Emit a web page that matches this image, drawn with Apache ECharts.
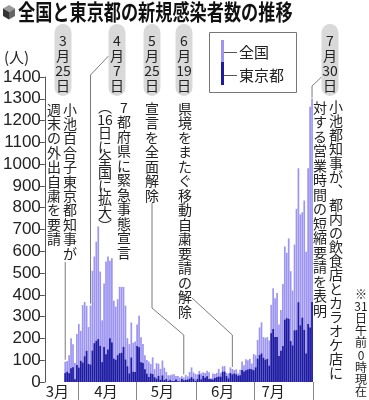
<!DOCTYPE html>
<html><head><meta charset="utf-8">
<script src="https://cdn.jsdelivr.net/npm/echarts@6/dist/echarts.min.js"></script>
<style>html,body{margin:0;padding:0;background:#fff}#c{width:369px;height:400px}</style>
</head><body><div id="c"></div>
<script>
// ---- data ----
const monthSpans = [[3,15,31],[4,1,30],[5,1,31],[6,1,30],[7,1,30]];
const categories = [];
monthSpans.forEach(([m,a,b]) => { for (let d=a; d<=b; d++) categories.push(m + '/' + d); });

const seriesNames = ['全国', '東京都'];
const national = [
  null,null,null,null,null,null,null,null,null,null,
  93,96,123,201,173,87,220,
  266,235,353,367,350,252,351,511,576,644,714,507,283,452,553,576,557,568,373,346,380,437,437,436,350,201,174,273,180,186,
  264,304,205,175,123,101,94,83,113,59,87,84,60,99,66,46,31,31,35,36,28,28,21,27,21,33,26,46,67,44,37,
  35,51,40,45,41,52,45,17,39,37,42,60,41,72,73,41,39,67,60,55,58,40,56,94,77,105,100,106,85,128,
  123,193,250,274,206,203,206,191,354,430,385,408,264,331,450,622,593,659,509,420,631,795,981,770,779,833,598,981,1264,1301
];
const tokyo = [
  null,null,null,null,null,null,null,null,null,null,
  41,47,40,63,68,13,78,
  66,97,89,118,143,83,80,144,178,189,197,166,91,161,127,149,201,181,107,102,123,132,134,161,103,72,39,112,47,46,
  165,160,91,87,58,38,23,39,36,22,15,28,10,30,9,14,5,10,5,5,11,3,2,14,8,10,11,15,22,14,5,
  13,34,12,28,20,26,14,13,12,18,22,25,24,47,48,27,16,41,35,39,35,29,31,55,48,54,57,60,58,54,
  67,107,124,131,111,102,106,75,224,243,206,206,119,143,165,286,293,290,188,168,237,238,366,260,295,239,131,266,250,367
];
const monthLabels = ['3月','4月','5月','6月','7月'];
const monthLabelAt = ['3/21','4/15','5/14','6/14','7/10'];
const monthStarts = ['4/1','5/1','6/1','7/1'];
const yMin = 0, yMax = 1400, yStep = 100;
const eventDates = ['3/25','4/7','5/25','6/19','7/30'];

const LIGHT = '#9d95f0', DARK = '#1d1ba0';
const CJK = '"Noto Sans CJK JP"';

const chart = echarts.init(document.getElementById('c'), null, {renderer:'canvas'});
chart.setOption({
  animation: false,
  grid: {left: 40, right: 56, top: 77, bottom: 18},
  xAxis: {
    type: 'category', data: categories, boundaryGap: true,
    axisLine: {show: false},
    axisTick: {show: true, length: 18, lineStyle: {color: '#888', width: 1},
      interval: (i, v) => monthStarts.includes(v)},
    axisLabel: {interval: (i, v) => monthLabelAt.includes(v),
      formatter: v => monthLabels[monthLabelAt.indexOf(v)] || '',
      fontSize: 15, fontFamily: CJK, color: '#222', margin: 2}
  },
  yAxis: {
    type: 'value', min: yMin, max: yMax, interval: yStep,
    splitLine: {show: false},
    axisLine: {show: true, lineStyle: {color: '#555'}},
    axisTick: {show: true, length: 5, lineStyle: {color: '#555'}},
    axisLabel: {formatter: v => String(v), fontSize: 17,
      fontFamily: '"Liberation Sans Narrow", "Liberation Sans", sans-serif', color: '#222', margin: 4}
  },
  series: [
    {name: seriesNames[0], type: 'bar', data: national, itemStyle: {color: LIGHT}, barCategoryGap: '12%'},
    {name: seriesNames[1], type: 'bar', data: tokyo, itemStyle: {color: DARK}, barGap: '-100%', barCategoryGap: '12%'}
  ]
});

// ---- annotations ----
function px(dateStr, val) {
  const i = categories.indexOf(dateStr);
  return chart.convertToPixel({seriesIndex: 0}, [i, val]);
}
function vtext(x, y, chars, size, lh, extra) {
  return Object.assign({
    type: 'text', x: x, y: y, z: 100,
    style: {text: chars.join('\n'), x: 0, y: 0, font: size + 'px "Liberation Sans Narrow", ' + CJK,
      fill: '#222', align: 'center', textAlign: 'center', verticalAlign: 'top', textVerticalAlign: 'top', lineHeight: lh}
  }, extra || {});
}
function pill(cx, chars) {
  return [
    {type: 'rect', z: 90, shape: {x: cx - 8.5, y: 24, width: 17, height: 72, r: 8.5}, style: {fill: '#d9d9d9'}},
    {type: 'text', z: 100, x: cx, y: 33,
      style: {text: chars.join('\n'), x: 0, y: 0, font: '14px "Liberation Sans Narrow", ' + CJK, fill: '#222',
        align: 'center', textAlign: 'center', verticalAlign: 'top', textVerticalAlign: 'top', lineHeight: 15}}
  ];
}
function line(points) {
  return {type: 'polyline', z: 80, shape: {points: points}, style: {stroke: '#7a7a7a', lineWidth: 1, fill: null}};
}
const S = s => Array.from(s);

const g = [];
// title + icon
g.push({type: 'polygon', shape: {points: [[9,5],[15,8.5],[9,12],[3,8.5]]}, style: {fill: '#9a9a9a'}});
g.push({type: 'polygon', shape: {points: [[3,8.5],[9,12],[9,19.5],[3,16]]}, style: {fill: '#333'}});
g.push({type: 'polygon', shape: {points: [[9,12],[15,8.5],[15,16],[9,19.5]]}, style: {fill: '#666'}});
g.push({type: 'text', x: 18, y: 1, scaleX: 0.78, z: 100,
  style: {text: '全国と東京都の新規感染者数の推移', x: 0, y: 0, font: 'bold 22px ' + CJK, fill: '#111',
    verticalAlign: 'top', textVerticalAlign: 'top'}});
// unit
g.push({type: 'text', x: 4, y: 57, style: {text: '(人)', x: 0, y: 0, font: '15px ' + CJK, fill: '#222',
  verticalAlign: 'middle', textVerticalAlign: 'middle'}});

// legend
g.push({type: 'rect', z: 50, shape: {x: 209.5, y: 32.5, width: 87, height: 60}, style: {fill: '#fff', stroke: '#777', lineWidth: 1}});
g.push({type: 'rect', z: 60, shape: {x: 221, y: 40, width: 3, height: 22}, style: {fill: LIGHT}});
g.push({type: 'rect', z: 60, shape: {x: 221, y: 62, width: 3, height: 23}, style: {fill: DARK}});
g.push({type: 'line', z: 60, shape: {x1: 224, y1: 52.5, x2: 237, y2: 52.5}, style: {stroke: '#555', lineWidth: 1}});
g.push({type: 'line', z: 60, shape: {x1: 224, y1: 75.5, x2: 237, y2: 75.5}, style: {stroke: '#555', lineWidth: 1}});
g.push({type: 'text', z: 60, x: 239, y: 52, style: {text: seriesNames[0], x: 0, y: 0, font: '15px ' + CJK, fill: '#222', verticalAlign: 'middle', textVerticalAlign: 'middle'}});
g.push({type: 'text', z: 60, x: 239, y: 75, style: {text: seriesNames[1], x: 0, y: 0, font: '15px ' + CJK, fill: '#222', verticalAlign: 'middle', textVerticalAlign: 'middle'}});

// event 1: 3/25
g.push(...pill(63, ['3','月','25','日']));
g.push(vtext(70, 102, S('小池百合子東京都知事が'), 14, 14.4));
g.push(vtext(54, 102, S('週末の外出自粛を要請'), 14, 14.4));
// event 2: 4/7
g.push(...pill(117, ['4','月','7','日']));
g.push(vtext(124, 100, ['7','都','府','県','に','緊','急','事','態','宣','言'], 14, 14.5));
g.push(vtext(105, 100, ['︵','16','日','に','全','国','に','拡','大','︶'], 14, 13.2));
// event 3: 5/25
g.push(...pill(152, ['5','月','25','日']));
g.push(vtext(152, 101, S('宣言を全面解除'), 14, 14.5));
// event 4: 6/19
g.push(...pill(184, ['6','月','19','日']));
g.push(vtext(185, 101, S('県境をまたぐ移動自粛要請の解除'), 14, 14.5));
// event 5: 7/30
g.push(...pill(330, ['7','月','30','日']));
g.push(vtext(336, 100, S('小池都知事が︑都内の飲食店とカラオケ店に'), 14, 14));
g.push(vtext(320, 100, S('対する営業時間の短縮要請を表明'), 14, 14.5));
g.push(vtext(361, 288, ['※','31','日','午','前','0','時','現','在'], 12, 12.2));

// leader lines (anchored on the data)
const natAt = d => national[categories.indexOf(d)];
let p;
p = px(eventDates[0], natAt(eventDates[0])); g.push(line([[p[0], 262], [p[0], p[1] - 2]]));
p = px(eventDates[1], natAt(eventDates[1])); g.push(line([[108.5, 56], [p[0], 75], [p[0], p[1] - 2]]));
p = px(eventDates[2], natAt(eventDates[2])); g.push(line([[152, 203], [152, 308], [p[0], 335], [p[0], p[1] - 3]]));
p = px(eventDates[3], natAt(eventDates[3])); g.push(line([[192, 298], [p[0], 335], [p[0], p[1] - 2]]));
p = px(eventDates[4], natAt(eventDates[4])); g.push(line([[321.5, 77], [p[0], 86], [p[0], p[1] - 1]]));

chart.setOption({graphic: g});
</script></body></html>
